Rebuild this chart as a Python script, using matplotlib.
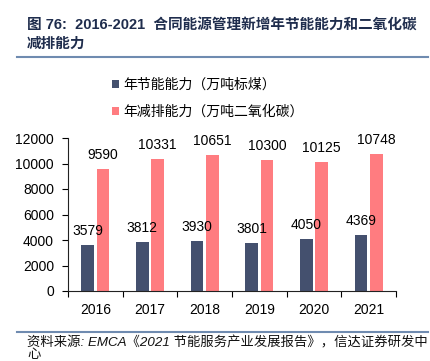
import matplotlib
matplotlib.use("Agg")
import matplotlib.pyplot as plt
from matplotlib.lines import Line2D
import numpy as np

plt.rcParams['font.family'] = ['Liberation Sans', 'Noto Sans CJK SC', 'DejaVu Sans']

years = ['2016', '2017', '2018', '2019', '2020', '2021']
energy_saving = [3579, 3812, 3930, 3801, 4050, 4369]
emission_reduction = [9590, 10331, 10651, 10300, 10125, 10748]
series_names = ['年节能能力（万吨标煤）', '年减排能力（万吨二氧化碳）']
title_lines = ['图 76:  2016-2021  合同能源管理新增年节能能力和二氧化碳', '减排能力']
source_lines = ['资料来源: EMCA《2021 节能服务产业发展报告》，信达证券研发中', '心']

fig = plt.figure(figsize=(4.30, 3.61), dpi=100)
ax = fig.add_axes([68/430, 1-291/361, 328/430, 153/361])

x = np.arange(len(years))
w = 0.23
off = 0.14
b1 = ax.bar(x - off, energy_saving, w, color='#44506E', label=series_names[0])
b2 = ax.bar(x + off, emission_reduction, w, color='#FF7C80', label=series_names[1])
ax.bar_label(b1, padding=5, fontsize=10)
ax.bar_label(b2, padding=5, fontsize=10)

ax.set_xlim(-0.5, len(years) - 0.5)
ax.set_ylim(0, 12000)
ax.set_yticks(np.arange(0, 12001, 2000))
ax.set_xticks(x)
ax.set_xticklabels(years)
ax.set_xticks(np.arange(-0.5, len(years), 1), minor=True)
ax.tick_params(axis='x', which='major', length=0, pad=9, labelsize=10)
ax.tick_params(axis='x', which='minor', length=4, direction='out', width=0.8)
ax.tick_params(axis='y', length=4, direction='out', width=0.8, pad=6, labelsize=10)
for s in ['top', 'right']:
    ax.spines[s].set_visible(False)
for s in ['left', 'bottom']:
    ax.spines[s].set_color('#222222')
    ax.spines[s].set_linewidth(0.8)

fig.legend(handles=[b1, b2], loc='upper left', bbox_to_anchor=(112/430, 1-78/361),
           frameon=False, fontsize=10, handlelength=0.5, handleheight=0.5,
           handletextpad=0.3, labelspacing=0.9, borderaxespad=0, borderpad=0)

title_color = '#1F2D4D'
fig.text(27/430, 1-25/361, title_lines[0], fontsize=10.5, fontweight='bold',
         color=title_color, va='center', ha='left')
fig.text(27/430, 1-44/361, title_lines[1], fontsize=10.5, fontweight='bold',
         color=title_color, va='center', ha='left')
fig.add_artist(Line2D([17/430, 428/430], [1-57/361, 1-57/361], color='#6F8BB0', lw=1.5,
                      transform=fig.transFigure))
fig.add_artist(Line2D([17/430, 428/430], [1-332/361, 1-332/361], color='#6F8BB0', lw=1.5,
                      transform=fig.transFigure))
fig.text(27/430, 1-343/361, source_lines[0], fontsize=9.6, style='italic', color='#111111',
         va='center', ha='left')
fig.text(27/430, 1-355/361, source_lines[1], fontsize=9.6, style='italic', color='#111111',
         va='center', ha='left')

fig.savefig('out.png', dpi=100)
